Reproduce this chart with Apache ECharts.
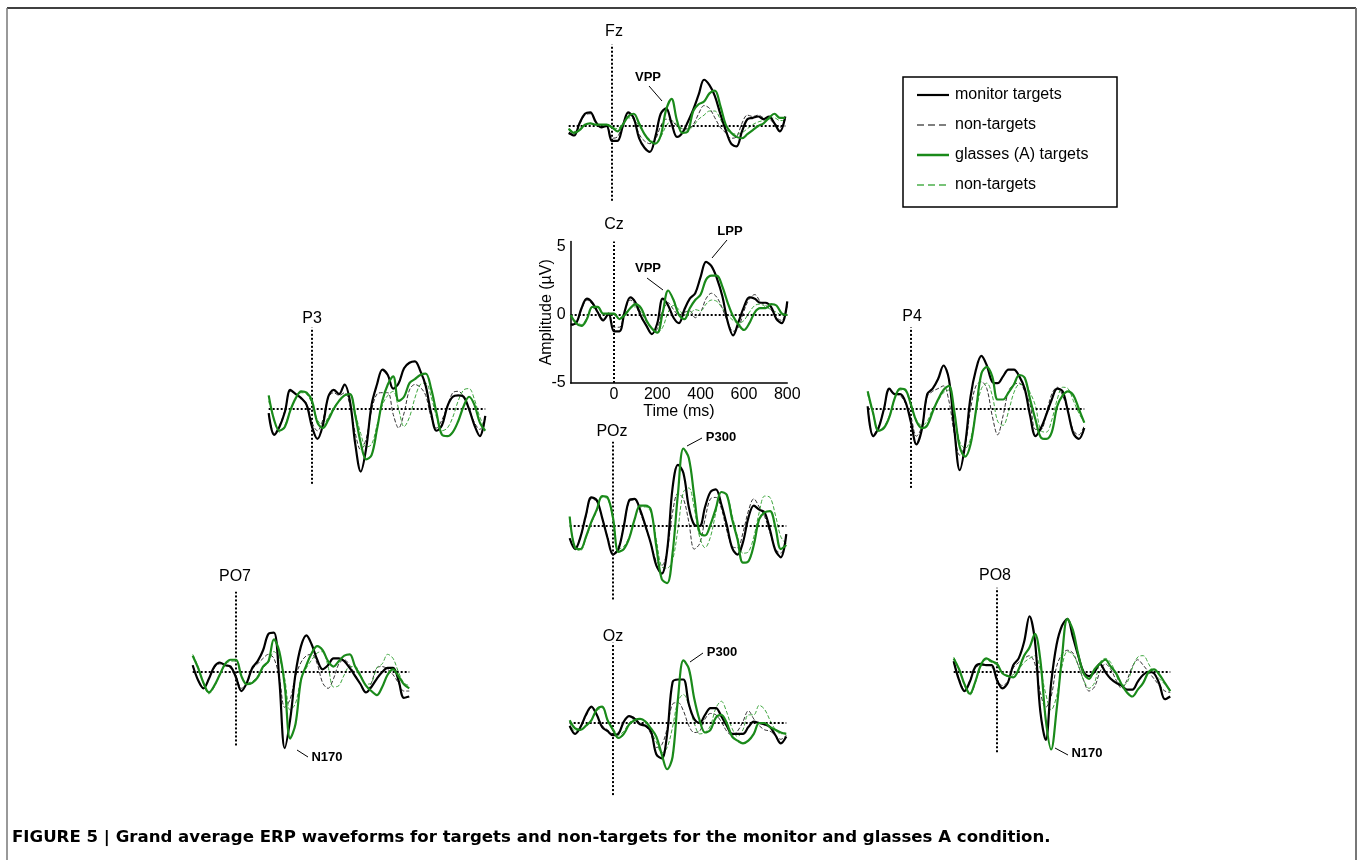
<!DOCTYPE html>
<html><head><meta charset="utf-8">
<script src="https://cdn.jsdelivr.net/npm/echarts@6.0.0/dist/echarts.min.js"></script>
<style>html,body{margin:0;padding:0;background:#fff}#c{width:1360px;height:860px}</style>
</head><body><div id="c"></div>
<script>
// ---------- DATA ----------
const times = [-200,-175,-150,-125,-100,-75,-50,-25,0,25,50,75,100,125,150,175,200,225,250,275,300,325,350,375,400,425,450,475,500,525,550,575,600,625,650,675,700,725,750,775,800];
const channels = ['Fz','Cz','P3','P4','POz','PO7','Oz','PO8'];
const seriesNames = ['monitor targets','non-targets','glasses (A) targets','non-targets'];
const xTickLabels = ['0','200','400','600','800'];
const yTickLabels = ['-5','0','5'];

const Fz_monitorTargets = [-0.5,-0.7,0.2,0.9,1.0,0.3,-0.1,0.0,-1.1,-1.1, 0.0,1.0,0.6,-0.9,-1.6,-1.9,-0.8,0.9,1.3,0.2, -0.8,-0.5,0.3,1.2,2.3,3.4,3.0,2.2,0.9,-0.3, -1.3,-1.5,-0.4,0.5,0.6,0.7,0.5,0.7,0.2,-0.4, 0.7];
const Fz_monitorNon     = [-0.6,-0.6,0.1,0.8,0.9,0.3,-0.1,0.0,-0.9,-0.8, 0.1,0.9,0.5,-0.6,-1.1,-1.3,-1.0,0.0,0.5,0.4, 0.0,-0.2,-0.2,0.1,0.9,1.5,1.3,0.6,-0.1,-0.5, -0.9,-0.8,0.2,0.8,0.7,0.8,0.6,0.5,0.2,-0.1, 0.5];
const Fz_glassesTargets = [-0.2,-0.5,-0.3,0.1,0.2,0.1,0.1,0.1,-0.1,-0.4, 0.1,0.7,0.9,0.2,-0.6,-1.1,-1.3,-0.7,1.2,2.0, 0.4,-0.5,-0.4,1.1,1.6,1.8,2.4,2.6,1.5,0.1, -0.5,-0.8,-0.9,-0.6,-0.3,0.0,0.2,0.6,0.9,0.6, 0.6];
const Fz_glassesNon     = [-0.2,-0.4,-0.3,0.0,0.2,0.1,0.0,0.0,-0.1,-0.2, 0.2,0.6,0.5,0.0,-0.6,-1.0,-1.2,-0.8,0.0,0.4, 0.1,-0.2,-0.3,0.0,0.5,0.8,1.1,1.1,0.5,-0.2, -0.5,-0.6,-0.5,-0.2,0.1,0.3,0.4,0.5,0.6,0.4, 0.4];

const Cz_monitorTargets = [-0.7,-0.6,0.5,1.2,0.9,0.2,-0.4,0.1,-1.2,-1.2, 0.3,1.3,0.9,-0.1,-0.8,-1.4,-0.6,1.2,0.7,-0.2, -0.6,0.4,1.2,1.6,2.8,3.9,3.6,2.7,1.4,-0.5, -1.5,-0.5,0.6,1.3,1.2,0.9,0.9,0.6,-0.3,-0.6, 1.0];
const Cz_monitorNon     = [-0.8,-0.6,0.4,1.1,0.8,0.2,-0.3,0.1,-0.9,-0.9, 0.3,1.1,0.7,-0.2,-0.8,-1.4,-1.0,0.3,0.9,0.4, 0.0,0.2,0.3,-0.2,0.2,1.2,1.6,1.3,0.5,-0.5, -1.2,-0.9,0.3,1.2,1.5,1.0,0.7,0.4,-0.2,-0.4, 0.7];
const Cz_glassesTargets = [0.0,-0.6,-0.8,-0.3,0.6,0.6,0.1,0.1,0.1,-0.3, 0.0,0.5,0.8,0.5,-0.4,-1.0,-1.3,0.2,1.8,1.1, 0.0,-0.3,0.5,1.1,1.5,2.6,2.9,2.9,2.1,0.9, -0.1,-0.7,-1.1,-0.6,0.2,0.5,0.5,0.8,0.7,0.1, 0.0];
const Cz_glassesNon     = [0.0,-0.5,-0.7,-0.2,0.5,0.5,0.1,0.1,0.0,-0.2, 0.1,0.5,0.6,0.2,-0.5,-1.0,-1.3,-0.9,0.2,0.7, 0.4,0.0,0.1,0.4,0.3,0.8,1.1,1.0,0.5,0.0, -0.4,-0.6,-0.4,0.2,0.7,0.8,0.6,0.4,0.2,0.0, 0.0];

const P3_monitorTargets = [-0.3,-1.9,-1.3,-0.2,1.4,1.1,0.8,0.3,-1.3,-2.2, -1.2,0.9,1.4,1.1,1.8,0.6,-2.6,-4.6,-2.9,0.3, 1.8,2.9,2.5,1.5,1.9,3.0,3.4,3.5,2.8,1.7, -0.3,-1.6,-1.2,0.2,0.9,1.0,0.9,0.0,-1.2,-2.0, -0.5];
const P3_monitorNon     = [-0.3,-1.8,-1.2,-0.1,1.3,1.1,0.8,0.4,-1.0,-1.6, -0.8,0.8,1.2,1.0,1.2,0.3,-1.8,-3.0,-2.2,-0.1, 1.1,1.2,1.2,-0.4,-1.4,-0.3,1.4,1.8,1.6,1.0, -0.6,-1.4,-0.8,0.2,1.2,1.3,0.9,0.0,-1.0,-1.5, -0.7];
const P3_glassesTargets = [1.0,-0.8,-1.6,-1.3,-0.1,0.8,1.3,1.2,0.6,-1.0, -1.4,-0.8,0.0,0.6,1.0,1.1,-0.5,-2.5,-3.7,-3.4, -1.5,0.6,1.8,2.4,0.6,0.9,1.9,2.2,2.5,2.6, 1.5,-0.3,-1.9,-2.0,-1.7,-0.9,0.2,0.9,0.3,-1.0, -1.6];
const P3_glassesNon     = [0.6,-0.8,-1.7,-1.2,-0.1,0.8,1.2,1.1,0.4,-0.8, -1.2,-0.6,0.1,0.6,1.0,1.1,-0.3,-1.8,-2.8,-2.6, -1.2,0.3,1.0,1.3,0.0,-1.3,-0.6,0.8,1.8,1.9, 0.9,-0.6,-1.6,-1.4,-0.6,0.6,1.4,1.5,0.7,-0.6, -1.4];

const P4_monitorTargets = [0.2,-2.0,-1.4,0.0,1.5,1.1,1.1,0.5,-1.0,-2.6, -1.5,1.1,1.5,2.2,3.2,2.2,-1.5,-4.5,-2.6,0.9, 2.9,3.9,3.2,2.0,1.9,2.4,2.9,2.9,2.4,1.5, -0.5,-2.0,-1.4,-0.4,0.7,1.5,1.3,-0.2,-1.8,-2.2, -1.4];
const P4_monitorNon     = [0.1,-1.9,-1.3,0.0,1.4,1.1,1.0,0.4,-0.6,-2.0, -1.3,0.9,1.3,1.5,1.7,0.6,-1.8,-3.4,-2.6,0.0, 1.7,2.0,1.5,-0.5,-1.9,-0.5,1.3,1.8,1.9,1.3, 0.3,-1.5,-1.5,-0.3,1.1,1.6,1.0,-0.2,-1.6,-1.9, -1.2];
const P4_glassesTargets = [1.3,-0.3,-1.6,-1.4,-0.6,0.8,1.5,1.4,0.3,-0.9, -1.4,-1.2,-0.2,0.7,1.4,1.7,-0.2,-2.8,-3.5,-2.6, -0.1,2.6,3.1,2.4,0.7,0.7,1.2,1.8,2.5,2.3, 0.7,-0.8,-2.1,-2.2,-1.7,0.2,1.0,1.3,1.0,0.0, -1.0];
const P4_glassesNon     = [1.1,-0.4,-1.6,-1.3,-0.5,0.8,1.4,1.3,0.2,-0.8, -1.2,-0.9,0.0,0.6,1.2,1.4,-0.3,-2.4,-2.9,-2.2, -0.2,1.5,1.9,1.0,-0.9,-1.2,-0.2,1.2,1.8,1.8, 1.2,0.2,-1.6,-1.7,-0.8,0.7,1.6,1.5,0.6,-0.3, -1.0];

const POz_monitorTargets = [-0.9,-1.7,-0.8,0.8,2.1,1.9,0.6,-0.9,-2.1,-1.7, 0.0,1.9,2.0,1.2,0.0,-1.3,-2.9,-3.5,-1.8,2.8, 4.5,3.9,1.4,0.1,0.0,1.4,2.5,2.7,1.6,0.1, -1.6,-2.1,-1.2,0.6,1.5,1.2,1.0,-0.3,-1.8,-2.3, -0.6];
const POz_monitorNon     = [-0.9,-1.6,-0.8,0.7,2.0,1.8,0.6,-0.8,-2.0,-1.6, 0.0,1.8,1.9,1.0,-0.1,-1.3,-2.6,-2.9,-1.8,1.0, 2.4,2.0,0.3,-1.7,-1.3,0.5,2.0,2.1,1.3,-0.3, -1.5,-1.6,-0.5,1.1,2.0,1.4,0.7,-0.5,-1.7,-2.0, -0.6];
const POz_glassesTargets = [0.7,-1.6,-1.7,-0.8,0.3,1.2,2.2,2.1,0.6,-1.9, -1.7,-0.9,0.5,1.5,1.5,1.2,-1.5,-3.9,-4.2,-2.0, 2.4,5.7,5.0,2.2,-0.5,-0.7,0.1,1.3,2.5,2.3, 0.5,-1.0,-2.7,-2.6,-1.4,0.5,1.0,1.1,-0.1,-1.7, -1.4];
const POz_glassesNon     = [0.5,-1.6,-1.8,-0.9,0.2,1.1,2.1,2.0,0.5,-1.7, -1.5,-0.8,0.5,1.4,1.4,1.0,-1.0,-3.0,-3.1,-2.5, -0.2,2.5,2.8,1.3,-0.8,-1.6,-0.8,1.0,2.5,2.3, 0.8,-0.8,-2.0,-1.9,-0.8,1.0,2.2,2.1,0.8,-0.8, -1.3];

const PO7_monitorTargets = [0.5,-0.6,-1.2,-0.5,0.4,0.7,0.5,0.4,-0.4,-1.4, -0.8,0.3,0.8,1.6,2.8,2.9,-0.6,-5.6,-3.5,-0.1, 1.9,2.7,2.0,0.9,0.2,0.5,1.0,1.0,0.8,0.3, -0.3,-0.9,-1.5,-1.1,-0.5,0.0,0.3,0.3,-0.6,-1.9, -1.8];
const PO7_monitorNon     = [0.5,-0.6,-1.2,-0.5,0.3,0.6,0.5,0.3,-0.3,-1.2, -0.8,0.2,0.6,1.0,1.3,1.0,-0.4,-2.6,-2.0,-0.3, 0.7,1.2,1.3,0.6,-0.8,-1.2,-0.5,0.6,0.9,0.5, -0.2,-0.9,-1.5,-0.8,0.3,0.4,0.2,-0.2,-0.8,-1.4, -1.4];
const PO7_glassesTargets = [1.2,0.3,-0.8,-1.5,-1.0,-0.2,0.6,0.9,0.9,-0.3, -0.9,-0.8,-0.4,0.4,0.8,2.4,1.5,-1.0,-4.9,-3.8, -0.6,0.5,1.4,1.9,1.6,0.8,0.4,0.8,1.2,1.3, 0.4,-0.3,-1.0,-1.4,-1.7,-1.1,-0.2,0.2,-0.3,-0.9, -1.2];
const PO7_glassesNon     = [1.3,0.4,-0.9,-1.6,-1.1,-0.2,0.5,0.8,0.8,-0.3, -0.8,-0.7,-0.3,0.3,0.7,1.5,1.0,-0.5,-2.8,-2.3, -0.5,0.3,0.9,1.4,1.5,0.4,-1.1,-1.0,-0.2,0.4, 0.4,-0.2,-0.9,-0.8,0.3,0.6,1.3,1.0,0.0,-0.8, -1.0];

const Oz_monitorTargets = [-0.2,-0.8,-0.3,0.6,1.2,0.6,-0.3,-0.6,-0.9,-0.8, 0.1,0.5,0.3,-0.1,-0.2,-0.6,-2.3,-2.6,-0.8,3.0, 3.2,3.2,1.4,0.3,0.0,0.6,1.1,1.1,0.5,-0.2, -0.8,-0.8,-0.8,-0.3,0.1,0.0,-0.1,-0.3,-0.9,-1.5, -1.0];
const Oz_monitorNon     = [-0.3,-0.8,-0.3,0.5,1.1,0.6,-0.2,-0.5,-0.8,-0.7, 0.1,0.5,0.4,0.0,-0.2,-0.8,-1.8,-1.6,-0.4,1.4, 1.5,0.9,-0.2,-0.7,-0.6,0.3,0.7,0.6,0.1,-0.6, -0.9,-0.6,0.1,0.9,0.3,-0.2,-0.5,-0.6,-0.9,-1.2, -0.9];
const Oz_glassesTargets = [0.2,-0.4,-0.5,-0.2,0.2,1.0,1.2,0.2,-0.5,-1.1, -0.8,-0.1,0.2,0.3,0.1,-0.4,-1.0,-2.3,-3.4,-2.5, 1.8,4.6,4.0,1.8,0.2,-0.7,-0.5,0.4,0.6,0.0, -1.0,-1.3,-1.5,-1.3,-0.8,0.0,0.0,-0.3,-0.5,-0.7, -0.8];
const Oz_glassesNon     = [0.1,-0.6,-0.5,-0.2,0.2,0.9,1.1,0.2,-0.4,-0.9, -0.6,0.0,0.3,0.3,0.1,-0.6,-1.4,-2.2,-1.8,-0.3, 1.6,2.1,1.3,0.0,-0.8,-0.7,-0.2,1.1,1.6,0.8, -0.4,-1.0,-0.5,0.6,0.6,1.3,1.0,0.2,-0.5,-0.8, -0.7];

const PO8_monitorTargets = [0.8,-0.6,-1.4,-0.7,0.4,0.6,0.5,0.5,-0.6,-1.2, -0.8,0.5,1.0,2.2,4.1,2.3,-2.9,-5.0,-0.8,2.0, 3.4,3.9,2.6,1.2,0.0,-0.3,0.0,0.6,0.0,-0.5, -0.8,-1.0,-1.3,-1.3,-0.7,-0.2,0.0,-0.1,-0.9,-2.0, -1.8];
const PO8_monitorNon     = [0.7,-0.5,-1.3,-0.6,0.3,0.5,0.5,0.4,-0.5,-1.0, -0.7,0.3,0.7,1.0,1.2,0.6,-1.5,-2.6,-1.8,0.4, 1.3,1.6,1.4,0.5,-0.6,-1.4,-1.1,0.0,0.6,0.2, -0.6,-1.2,-0.6,0.4,0.9,0.5,0.0,-0.5,-1.0,-1.4, -1.5];
const PO8_glassesTargets = [1.0,0.2,-0.9,-1.6,-0.7,0.5,1.0,0.8,0.6,-0.1, -0.3,-0.4,0.2,1.2,1.8,2.8,0.9,-3.5,-5.7,-2.8, 1.1,3.9,3.1,1.3,-0.1,-0.5,0.2,0.6,0.9,0.4, -0.1,-0.9,-1.5,-1.8,-1.3,-0.8,0.0,0.2,-0.2,-0.8, -1.4];
const PO8_glassesNon     = [1.1,0.2,-1.0,-1.7,-0.8,0.4,0.9,0.7,0.5,-0.1, -0.3,-0.2,0.2,0.7,1.0,1.2,0.2,-1.6,-2.8,-1.8, 0.4,1.5,1.3,0.5,-0.6,-1.2,-0.8,0.7,1.0,0.7, -0.2,-1.0,-0.8,0.3,1.1,1.2,0.6,-0.1,-0.5,-0.9, -1.3];

const panelData = {
  Fz: [Fz_monitorTargets, Fz_monitorNon, Fz_glassesTargets, Fz_glassesNon],
  Cz: [Cz_monitorTargets, Cz_monitorNon, Cz_glassesTargets, Cz_glassesNon],
  P3: [P3_monitorTargets, P3_monitorNon, P3_glassesTargets, P3_glassesNon],
  P4: [P4_monitorTargets, P4_monitorNon, P4_glassesTargets, P4_glassesNon],
  POz: [POz_monitorTargets, POz_monitorNon, POz_glassesTargets, POz_glassesNon],
  PO7: [PO7_monitorTargets, PO7_monitorNon, PO7_glassesTargets, PO7_glassesNon],
  Oz: [Oz_monitorTargets, Oz_monitorNon, Oz_glassesTargets, Oz_glassesNon],
  PO8: [PO8_monitorTargets, PO8_monitorNon, PO8_glassesTargets, PO8_glassesNon]
};

// ---------- LAYOUT / STYLE ----------
const FONT = '"Liberation Sans", Arial, Helvetica, sans-serif';
const CAPTION_FONT = '"DejaVu Sans", "Liberation Sans", Arial, sans-serif';
const PX_MS = 0.2166, PX_UV = 13.6;
const layout = {
  Fz:  {x0:612, y0:126, ymax:6.0, ymin:-5.5, tx:614, ty:32},
  Cz:  {x0:614, y0:315, ymax:5.4, ymin:-5.0, tx:614, ty:225},
  P3:  {x0:312, y0:409, ymax:6.0, ymin:-5.5, tx:312, ty:319},
  P4:  {x0:911, y0:409, ymax:6.0, ymin:-5.8, tx:912, ty:317},
  POz: {x0:613, y0:526, ymax:6.2, ymin:-5.4, tx:612, ty:432},
  PO7: {x0:236, y0:672, ymax:5.9, ymin:-5.4, tx:235, ty:577},
  Oz:  {x0:613, y0:723, ymax:5.9, ymin:-5.3, tx:613, ty:637},
  PO8: {x0:997, y0:672, ymax:6.2, ymin:-5.9, tx:995, ty:576}
};
const GREEN = '#1a8a1a', GREEN_L = '#3fa63f';
const lineStyles = [
  {color:'#000000', width:2.2, type:'solid'},
  {color:'#333333', width:1, type:[4,2]},
  {color:GREEN, width:2.2, type:'solid'},
  {color:GREEN_L, width:1, type:[4,2]}
];

const grids = [], xAxes = [], yAxes = [], series = [];
channels.forEach((ch, i) => {
  const L = layout[ch];
  const isAxis = ch === 'Cz';
  grids.push({
    left: L.x0 - 200 * PX_MS, top: L.y0 - L.ymax * PX_UV,
    width: 1000 * PX_MS, height: (L.ymax - L.ymin) * PX_UV,
    containLabel: false, outerBoundsMode: 'none'
  });
  xAxes.push({
    gridIndex: i, type: 'value', min: -200, max: 800, interval: 200, show: isAxis,
    axisLine: {show: isAxis, onZero: false, lineStyle: {color: '#000', width: 1.5}},
    axisTick: {show: false}, splitLine: {show: false},
    axisLabel: {show: isAxis, color: '#000', fontSize: 16, fontFamily: FONT, margin: 4,
      formatter: v => xTickLabels.includes(String(v)) ? String(v) : ''},
    name: isAxis ? 'Time (ms)' : '', nameLocation: 'middle', nameGap: 21, nameMoveOverlap: false,
    nameTextStyle: {color: '#000', fontSize: 16, fontFamily: FONT}
  });
  yAxes.push({
    gridIndex: i, type: 'value', min: L.ymin, max: L.ymax, interval: 5, show: isAxis,
    axisLine: {show: isAxis, onZero: false, lineStyle: {color: '#000', width: 1.5}},
    axisTick: {show: false}, splitLine: {show: false},
    axisLabel: {show: isAxis, color: '#000', fontSize: 16, fontFamily: FONT, margin: 5,
      formatter: v => yTickLabels.includes(String(v)) ? String(v) : ''},
    name: isAxis ? 'Amplitude (\u00B5V)' : '', nameLocation: 'middle', nameGap: 16, nameMoveOverlap: false,
    nameTextStyle: {color: '#000', fontSize: 16, fontFamily: FONT}
  });
  const d = panelData[ch];
  [1, 3, 0, 2].forEach((k, j) => {
    const s = {
      type: 'line', name: seriesNames[k], xAxisIndex: i, yAxisIndex: i,
      data: times.map((t, n) => [t, d[k][n]]),
      symbol: 'none', showSymbol: false, smooth: 0.35, clip: false, silent: true,
      lineStyle: lineStyles[k], z: 2 + j, animation: false
    };
    if (j === 0) {
      s.markLine = {
        silent: true, symbol: 'none', animation: false, label: {show: false},
        lineStyle: {color: '#000', width: 2, type: [2, 2]},
        data: [{xAxis: 0}, {yAxis: 0}]
      };
    }
    series.push(s);
  });
});

// ---------- GRAPHIC (frame, titles, legend, annotations, caption) ----------
function txt(x, y, text, size, bold, align, family) {
  return {type: 'text', x: x, y: y, silent: true, z: 100,
    style: {text: text, fill: '#000', font: (bold ? 'bold ' : '') + size + 'px ' + (family || FONT),
      textAlign: align || 'center', align: align || 'center',
      textVerticalAlign: 'middle', verticalAlign: 'middle'}};
}
function seg(x1, y1, x2, y2, color, width, dash) {
  return {type: 'line', silent: true, z: 100, shape: {x1, y1, x2, y2},
    style: {stroke: color, lineWidth: width, lineDash: dash || null}};
}
const graphics = [];
graphics.push(seg(7, 8, 1356, 8, '#000', 1.5));
graphics.push(seg(7, 8, 7, 860, '#777', 1.5));
graphics.push(seg(1356, 8, 1356, 860, '#777', 2));
channels.forEach(ch => graphics.push(txt(layout[ch].tx, layout[ch].ty, ch, 16, false)));
// legend
graphics.push({type: 'rect', silent: true, z: 100, shape: {x: 903, y: 77, width: 214, height: 130},
  style: {fill: '#fff', stroke: '#000', lineWidth: 1.5}});
const legendRows = [95, 125, 155, 185];
const legendStyles = [['#000', 2.2, null], ['#555', 1.3, [7, 4]], [GREEN, 2.5, null], ['#4cb04c', 1.3, [7, 4]]];
seriesNames.forEach((nm, k) => {
  graphics.push(seg(917, legendRows[k], 949, legendRows[k], legendStyles[k][0], legendStyles[k][1], legendStyles[k][2]));
  graphics.push(txt(955, legendRows[k], nm, 16, false, 'left'));
});
// annotations
const annotations = [
  {t: 'VPP', x: 648, y: 77, l: [649, 86, 662, 101]},
  {t: 'VPP', x: 648, y: 268, l: [647, 278, 663, 290]},
  {t: 'LPP', x: 730, y: 231, l: [727, 240, 712, 258]},
  {t: 'P300', x: 721, y: 437, l: [702, 438, 687, 446]},
  {t: 'P300', x: 722, y: 652, l: [703, 653, 690, 662]},
  {t: 'N170', x: 327, y: 757, l: [297, 750, 308, 757]},
  {t: 'N170', x: 1087, y: 753, l: [1055, 748, 1068, 755]}
];
annotations.forEach(a => {
  graphics.push(txt(a.x, a.y, a.t, 13, true));
  graphics.push(seg(a.l[0], a.l[1], a.l[2], a.l[3], '#000', 1));
});
graphics.push(txt(12, 838, 'FIGURE 5 | Grand average ERP waveforms for targets and non-targets for the monitor and glasses A condition.', 16.6, true, 'left', CAPTION_FONT));

const chart = echarts.init(document.getElementById('c'), null, {renderer: 'canvas'});
chart.setOption({
  backgroundColor: '#ffffff',
  animation: false,
  textStyle: {fontFamily: FONT},
  grid: grids, xAxis: xAxes, yAxis: yAxes, series: series,
  graphic: {elements: graphics}
});
</script></body></html>
